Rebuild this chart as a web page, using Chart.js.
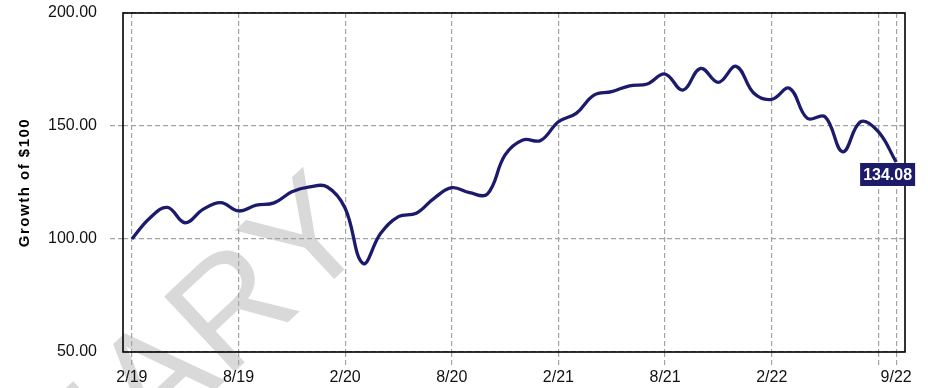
<!DOCTYPE html>
<html>
<head>
<meta charset="utf-8">
<script src="https://cdn.jsdelivr.net/npm/chart.js@4.4.1/dist/chart.umd.min.js"></script>
<style>
  html, body { margin: 0; padding: 0; background: #ffffff; }
  #wrap { width: 928px; height: 388px; position: relative; }
</style>
</head>
<body>
<div id="wrap"><canvas id="growth" width="928" height="388"></canvas></div>
<script>
// Monthly periods, February 2019 through September 2022
const months = [
  "2/19","3/19","4/19","5/19","6/19","7/19","8/19","9/19","10/19","11/19","12/19","1/20",
  "2/20","3/20","4/20","5/20","6/20","7/20","8/20","9/20","10/20","11/20","12/20","1/21",
  "2/21","3/21","4/21","5/21","6/21","7/21","8/21","9/21","10/21","11/21","12/21","1/22",
  "2/22","3/22","4/22","5/22","6/22","7/22","8/22","9/22"
];

// Growth of a $100 investment at each month end
const growthValues = [
  100.00, 109.2, 114.0, 107.2, 113.1, 116.1, 112.4, 115.0, 116.0, 120.9, 123.1, 123.0,
  113.6, 89.2, 102.5, 109.9, 111.4, 118.0, 122.7, 120.5, 119.9, 137.2, 143.8, 143.6,
  151.9, 155.6, 163.7, 165.2, 167.8, 168.6, 173.0, 165.9, 175.5, 169.3, 176.4, 164.5,
  161.8, 166.7, 153.4, 154.1, 138.6, 151.9, 147.5, 134.08
];

// Months that carry a vertical grid line, and the ones that are labelled
const gridMonths = ["2/19","8/19","2/20","8/20","2/21","8/21","2/22","8/22","9/22"];
const labelledMonths = ["2/19","8/19","2/20","8/20","2/21","8/21","2/22","9/22"];

// Value axis ticks
const yTicks = [50, 100, 150, 200];

const NAVY = "#1b1a6b";
const GRID = "#a3a3a3";
const FONT = "'Liberation Sans', Arial, Helvetica, sans-serif";

const watermark = {
  id: "watermark",
  beforeDraw(chart) {
    const ctx = chart.ctx;
    ctx.save();
    ctx.translate(376, 240);
    ctx.rotate(-43 * Math.PI / 180);
    ctx.font = "150px " + FONT;
    ctx.fillStyle = "#d9d9d9";
    ctx.textAlign = "right";
    ctx.textBaseline = "alphabetic";
    ctx.fillText("PRELIMINARY", 0, 0);
    ctx.restore();
  }
};

const frame = {
  id: "frame",
  beforeDatasetsDraw(chart) {
    const { ctx, chartArea: a } = chart;
    ctx.save();
    ctx.strokeStyle = "#000000";
    ctx.lineWidth = 1.6;
    ctx.strokeRect(a.left, a.top, a.right - a.left, a.bottom - a.top);
    ctx.restore();
  },
  afterDatasetsDraw(chart) {
    const { ctx, chartArea: a } = chart;
    // end-value tag under the last point
    const meta = chart.getDatasetMeta(0);
    const last = meta.data[meta.data.length - 1];
    const val = growthValues[growthValues.length - 1];
    const text = val.toFixed(2);
    ctx.save();
    ctx.font = "bold 16px " + FONT;
    const w = 55, h = 23;
    const bx = last.x - 36, by = last.y + 1;
    ctx.fillStyle = NAVY;
    ctx.fillRect(bx, by, w, h);
    ctx.fillStyle = "#ffffff";
    ctx.textAlign = "center";
    ctx.textBaseline = "middle";
    ctx.fillText(text, bx + w / 2, by + h / 2 + 1);
    ctx.restore();

    // rotated value-axis title
    ctx.save();
    ctx.translate(25, (a.top + a.bottom) / 2);
    ctx.rotate(-Math.PI / 2);
    ctx.font = "bold 15px " + FONT;
    ctx.letterSpacing = "1.5px";
    ctx.fillStyle = "#000000";
    ctx.textAlign = "center";
    ctx.textBaseline = "middle";
    ctx.fillText("Growth of $100", 0, 0);
    ctx.restore();
  }
};

new Chart(document.getElementById("growth"), {
  type: "line",
  data: {
    labels: months,
    datasets: [{
      data: growthValues,
      borderColor: NAVY,
      borderWidth: 3.3,
      tension: 0.4,
      pointRadius: 0,
      fill: false
    }]
  },
  options: {
    responsive: false,
    devicePixelRatio: 1,
    animation: false,
    layout: { padding: { top: 13, right: 23, left: 0, bottom: 0 } },
    plugins: { legend: { display: false }, tooltip: { enabled: false } },
    scales: {
      x: {
        type: "category",
        offset: true,
        afterFit(s) { s.height = 36; s.paddingLeft = 0; s.paddingRight = 0; },
        border: { display: false, dash: [5, 3] },
        grid: {
          offset: false,
          drawTicks: true,
          tickLength: 13,
          lineWidth: 1.2,
          tickWidth: 1.2,
          tickBorderDash: [5, 3],
          color: (c) => gridMonths.includes(months[c.index]) ? GRID : "rgba(0,0,0,0)",
          tickColor: (c) => gridMonths.includes(months[c.index]) ? GRID : "rgba(0,0,0,0)"
        },
        ticks: {
          autoSkip: false,
          maxRotation: 0,
          padding: 3,
          color: "#111111",
          font: { family: FONT, size: 16 },
          callback(v, i) { return labelledMonths.includes(months[i]) ? months[i] : ""; }
        }
      },
      y: {
        min: yTicks[0],
        max: yTicks[yTicks.length - 1],
        afterFit(s) { s.width = 123; s.paddingTop = 0; s.paddingBottom = 0; },
        afterBuildTicks(s) { s.ticks = yTicks.map(v => ({ value: v })); },
        border: { display: false, dash: [5, 3] },
        grid: {
          drawTicks: true,
          tickLength: 13,
          lineWidth: 1.2,
          tickWidth: 1.2,
          tickBorderDash: [5, 3],
          color: GRID,
          tickColor: (c) => (c.tick && (c.tick.value === 50 || c.tick.value === 200)) ? "rgba(0,0,0,0)" : GRID
        },
        ticks: {
          padding: 13,
          color: "#111111",
          font: { family: FONT, size: 16 },
          callback(v) { return Number(v).toFixed(2); }
        }
      }
    }
  },
  plugins: [watermark, frame]
});
</script>
</body>
</html>
